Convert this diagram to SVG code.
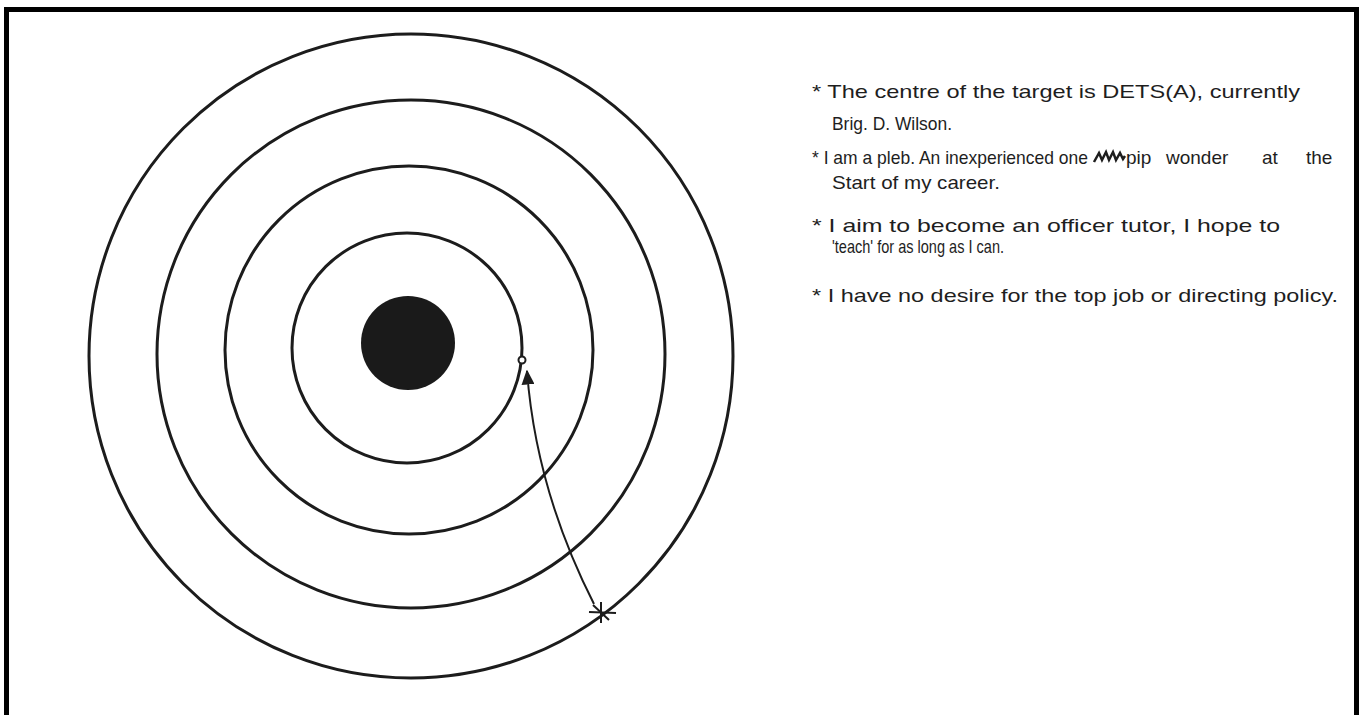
<svg xmlns="http://www.w3.org/2000/svg" width="1363" height="715" viewBox="0 0 1363 715">
<style>
.ring{fill:none;stroke:#1c1c1c;stroke-width:3}
.note{font-family:"Liberation Sans","DejaVu Sans",sans-serif;font-size:19px;fill:#1e1e1e}
.conn{fill:none;stroke:#1c1c1c;stroke-width:2}
</style>
<defs>
<marker id="arrow" viewBox="0 0 10 10" refX="9" refY="5" markerWidth="15" markerHeight="13" markerUnits="userSpaceOnUse" orient="auto" preserveAspectRatio="none">
<path d="M0,0 L10,5 L0,10 Z" fill="#1c1c1c"/>
</marker>
</defs>
<rect width="1363" height="715" fill="#ffffff"/>
<path d="M6.5,720 V9.5 H1356.5 V720" fill="none" stroke="#000" stroke-width="5"/>
<g id="target">
<circle id="ring1" class="ring" cx="411" cy="356" r="322"/>
<circle id="ring2" class="ring" cx="411" cy="354" r="254"/>
<circle id="ring3" class="ring" cx="409" cy="350" r="184"/>
<circle id="ring4" class="ring" cx="407" cy="348" r="115"/>
<circle id="bullseye" cx="408" cy="343" r="47" fill="#1a1a1a"/>
</g>
<g id="goal-mark"><circle cx="522" cy="360" r="3.5" fill="#fff" stroke="#1c1c1c" stroke-width="2"/></g>
<g id="me-mark" stroke="#1c1c1c" stroke-width="2">
<line x1="589" y1="612" x2="616" y2="613"/>
<line x1="601" y1="602" x2="601" y2="623"/>
<line x1="593" y1="605" x2="609" y2="620"/>
</g>
<g id="connectors">
<path class="conn" d="M594,604 Q536,490 527,371" marker-end="url(#arrow)"/>
</g>
<g id="notes">
<text class="note" x="812" y="98" textLength="488" lengthAdjust="spacingAndGlyphs">* The centre of the target is DETS(A), currently</text>
<text class="note" x="832" y="130" font-size="17" textLength="120" lengthAdjust="spacingAndGlyphs">Brig. D. Wilson.</text>
<text class="note" x="812" y="164" font-size="17" textLength="276" lengthAdjust="spacingAndGlyphs">* I am a pleb. An inexperienced one</text>
<path d="M1094,162 l5,-9 l3,7 l4,-8 l3,8 l4,-8 l3,8 l4,-7 l3,6 l2,-3" fill="none" stroke="#1e1e1e" stroke-width="2.5"/>
<text class="note" y="164" font-size="18"><tspan x="1126">pip</tspan><tspan x="1166">wonder</tspan><tspan x="1262">at</tspan><tspan x="1306">the</tspan></text>
<text class="note" x="832" y="189" textLength="168" lengthAdjust="spacingAndGlyphs">Start of my career.</text>
<text class="note" x="812" y="232" textLength="468" lengthAdjust="spacingAndGlyphs">* I aim to become an officer tutor, I hope to</text>
<text class="note" x="832" y="253" font-size="17" textLength="172" lengthAdjust="spacingAndGlyphs">'teach' for as long as I can.</text>
<text class="note" x="812" y="302" textLength="526" lengthAdjust="spacingAndGlyphs">* I have no desire for the top job or directing policy.</text>
</g>
</svg>
